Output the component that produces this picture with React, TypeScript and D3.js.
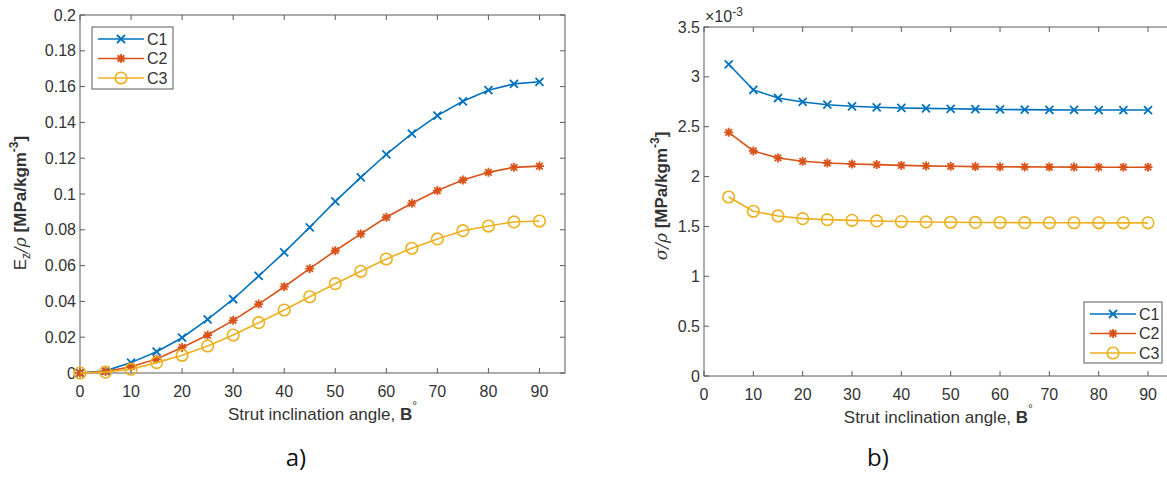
import React, { useEffect, useRef } from 'react';
import * as d3 from 'd3';

// strut inclination angle (deg)
const anglesA = [0, 5, 10, 15, 20, 25, 30, 35, 40, 45, 50, 55, 60, 65, 70, 75, 80, 85, 90];
const anglesB = [5, 10, 15, 20, 25, 30, 35, 40, 45, 50, 55, 60, 65, 70, 75, 80, 85, 90];

// a) specific stiffness Ez/rho
const c1A = [0, 0.0012, 0.0058, 0.0119, 0.0197, 0.030, 0.0412, 0.0542, 0.0674, 0.0814, 0.0959, 0.1093, 0.1222, 0.1337, 0.1438, 0.1518, 0.158, 0.1615, 0.1627];
const c2A = [0, 0.0008, 0.0035, 0.0078, 0.0143, 0.0212, 0.0294, 0.0385, 0.0482, 0.0583, 0.0683, 0.0777, 0.087, 0.0948, 0.1019, 0.1078, 0.1121, 0.1149, 0.1156];
const c3A = [0, 0.0005, 0.0021, 0.0058, 0.0099, 0.0151, 0.0212, 0.0281, 0.0352, 0.0426, 0.0499, 0.0568, 0.0637, 0.0697, 0.0749, 0.0795, 0.0821, 0.0844, 0.0849];

// b) specific strength sigma/rho (x 1e-3)
const c1B = [3.126, 2.869, 2.788, 2.748, 2.721, 2.705, 2.695, 2.688, 2.684, 2.68, 2.676, 2.673, 2.671, 2.669, 2.668, 2.667, 2.667, 2.667];
const c2B = [2.444, 2.257, 2.187, 2.153, 2.136, 2.126, 2.12, 2.112, 2.107, 2.103, 2.1, 2.098, 2.097, 2.096, 2.095, 2.094, 2.094, 2.094];
const c3B = [1.795, 1.652, 1.605, 1.578, 1.568, 1.561, 1.555, 1.549, 1.545, 1.542, 1.54, 1.539, 1.538, 1.537, 1.537, 1.536, 1.536, 1.536];

const seriesNames = ['C1', 'C2', 'C3'];
const colors = ['#0072BD', '#D95319', '#EDB120'];
const markers = ['x', 'star', 'circle'];

const xTicks = [0, 10, 20, 30, 40, 50, 60, 70, 80, 90];
const yTicksA = [0, 0.02, 0.04, 0.06, 0.08, 0.1, 0.12, 0.14, 0.16, 0.18, 0.2];
const yTicksB = [0, 0.5, 1, 1.5, 2, 2.5, 3, 3.5];

const W = 1167;
const H = 481;
const axisColor = '#5a5a5a';
const textColor = '#333';
const font = 'Liberation Sans, Arial, sans-serif';
const tickSize = 16;
const labelSize = 17;

function drawMarker(g: any, type: string, x: number, y: number, color: string) {
  const s = 4;
  if (type === 'x') {
    g.append('path')
      .attr('d', `M${x - s},${y - s}L${x + s},${y + s}M${x - s},${y + s}L${x + s},${y - s}`)
      .attr('stroke', color).attr('stroke-width', 1.8).attr('fill', 'none');
  } else if (type === 'star') {
    const r = 4.5;
    let d = `M${x - r},${y}L${x + r},${y}M${x},${y - r}L${x},${y + r}`;
    const k = r * 0.72;
    d += `M${x - k},${y - k}L${x + k},${y + k}M${x - k},${y + k}L${x + k},${y - k}`;
    g.append('path').attr('d', d).attr('stroke', color).attr('stroke-width', 1.8).attr('fill', 'none');
  } else {
    g.append('circle').attr('cx', x).attr('cy', y).attr('r', 5.8)
      .attr('stroke', color).attr('stroke-width', 1.6).attr('fill', 'none');
  }
}

function drawPanel(svg: any, opts: any) {
  const { left, right, top, bottom, yMax, yTicks, angles, series, legend, yFmt } = opts;
  const x = d3.scaleLinear().domain([0, 95]).range([left, right]);
  const y = d3.scaleLinear().domain([0, yMax]).range([bottom, top]);
  const g = svg.append('g');

  // box
  g.append('rect').attr('x', left).attr('y', top).attr('width', right - left).attr('height', bottom - top)
    .attr('fill', 'none').attr('stroke', axisColor).attr('stroke-width', 1);

  const tl = 5;
  xTicks.forEach((t) => {
    const px = x(t);
    g.append('line').attr('x1', px).attr('x2', px).attr('y1', bottom).attr('y2', bottom - tl).attr('stroke', axisColor);
    g.append('line').attr('x1', px).attr('x2', px).attr('y1', top).attr('y2', top + tl).attr('stroke', axisColor);
    g.append('text').attr('x', px).attr('y', bottom + 24).attr('text-anchor', 'middle')
      .attr('font-family', font).attr('font-size', tickSize).attr('fill', textColor).text(String(t));
  });
  yTicks.forEach((t: number) => {
    const py = y(t);
    g.append('line').attr('x1', left).attr('x2', left + tl).attr('y1', py).attr('y2', py).attr('stroke', axisColor);
    g.append('line').attr('x1', right).attr('x2', right - tl).attr('y1', py).attr('y2', py).attr('stroke', axisColor);
    g.append('text').attr('x', left - 4).attr('y', py + 5.5).attr('text-anchor', 'end')
      .attr('font-family', font).attr('font-size', tickSize).attr('fill', textColor).text(yFmt(t));
  });

  // x label
  const xl = g.append('text').attr('x', (left + right) / 2).attr('y', bottom + 47).attr('text-anchor', 'middle')
    .attr('font-family', font).attr('font-size', labelSize).attr('fill', textColor);
  xl.append('tspan').text('Strut inclination angle, ');
  xl.append('tspan').attr('font-weight', 'bold').text('B');
  xl.append('tspan').attr('font-size', 12).attr('dy', -10).text('°');

  // lines
  const line = d3.line<number>().x((_, i) => x(angles[i])).y((d) => y(d));
  series.forEach((vals: number[], si: number) => {
    g.append('path').datum(vals).attr('d', line).attr('fill', 'none')
      .attr('stroke', colors[si]).attr('stroke-width', 1.6);
    vals.forEach((v, i) => drawMarker(g, markers[si], x(angles[i]), y(v), colors[si]));
  });

  // legend
  const lg = g.append('g');
  lg.append('rect').attr('x', legend.x).attr('y', legend.y).attr('width', legend.w).attr('height', legend.h)
    .attr('fill', '#fff').attr('stroke', axisColor).attr('stroke-width', 1);
  seriesNames.forEach((n, i) => {
    const ly = legend.y + 12 + i * 19.5;
    lg.append('line').attr('x1', legend.x + 6).attr('x2', legend.x + 52).attr('y1', ly).attr('y2', ly)
      .attr('stroke', colors[i]).attr('stroke-width', 1.6);
    drawMarker(lg, markers[i], legend.x + 29, ly, colors[i]);
    lg.append('text').attr('x', legend.x + 55).attr('y', ly + 5.5).attr('font-family', font)
      .attr('font-size', tickSize).attr('fill', textColor).text(n);
  });
  return g;
}

const App = () => {
  const ref = useRef<SVGSVGElement>(null);
  useEffect(() => {
    const svg = d3.select(ref.current);
    svg.selectAll('*').remove();

    drawPanel(svg, {
      left: 80, right: 565, top: 15, bottom: 373, yMax: 0.2, yTicks: yTicksA,
      angles: anglesA, series: [c1A, c2A, c3A], yFmt: (t: number) => d3.format('~g')(t),
      legend: { x: 92, y: 27, w: 81, h: 62 },
    });
    drawPanel(svg, {
      left: 704, right: 1172.7, top: 27, bottom: 376, yMax: 3.5, yTicks: yTicksB,
      angles: anglesB, series: [c1B, c2B, c3B], yFmt: (t: number) => String(t),
      legend: { x: 1084, y: 302, w: 78, h: 61 },
    });

    // y labels
    const yl1 = svg.append('text').attr('transform', 'translate(26,203) rotate(-90)').attr('text-anchor', 'middle')
      .attr('font-family', font).attr('font-size', labelSize).attr('fill', textColor);
    yl1.append('tspan').text('E');
    yl1.append('tspan').attr('font-size', 12).attr('dy', 4).text('z');
    yl1.append('tspan').attr('dy', -4).attr('font-family', 'DejaVu Serif, serif').attr('font-style', 'italic').text('/ρ');
    yl1.append('tspan').attr('font-weight', 'bold').text(' [MPa/kgm');
    yl1.append('tspan').attr('font-weight', 'bold').attr('font-size', 12).attr('dy', -8).text('-3');
    yl1.append('tspan').attr('font-weight', 'bold').attr('dy', 8).text(']');

    const yl2 = svg.append('text').attr('transform', 'translate(667,196) rotate(-90)').attr('text-anchor', 'middle')
      .attr('font-family', font).attr('font-size', labelSize).attr('fill', textColor);
    yl2.append('tspan').attr('font-family', 'DejaVu Serif, serif').attr('font-style', 'italic').text('σ/ρ');
    yl2.append('tspan').attr('font-weight', 'bold').text(' [MPa/kgm');
    yl2.append('tspan').attr('font-weight', 'bold').attr('font-size', 12).attr('dy', -8).text('-3');
    yl2.append('tspan').attr('font-weight', 'bold').attr('dy', 8).text(']');

    // exponent
    const ex = svg.append('text').attr('x', 705).attr('y', 22).attr('font-family', font)
      .attr('font-size', 16).attr('fill', textColor);
    ex.append('tspan').text('×10');
    ex.append('tspan').attr('font-size', 12).attr('dy', -6).text('-3');

    // panel captions
    svg.append('text').attr('x', 296).attr('y', 466).attr('text-anchor', 'middle')
      .attr('font-family', 'Open Sans, Noto Sans, sans-serif').attr('font-size', 24).attr('fill', '#111').text('a)');
    svg.append('text').attr('x', 878).attr('y', 466).attr('text-anchor', 'middle')
      .attr('font-family', 'Open Sans, Noto Sans, sans-serif').attr('font-size', 24).attr('fill', '#111').text('b)');
  }, []);

  return (
    <svg ref={ref} width={W} height={H}
      style={{ position: 'absolute', left: 0, top: 0, background: '#fff' }} />
  );
};

export default App;
